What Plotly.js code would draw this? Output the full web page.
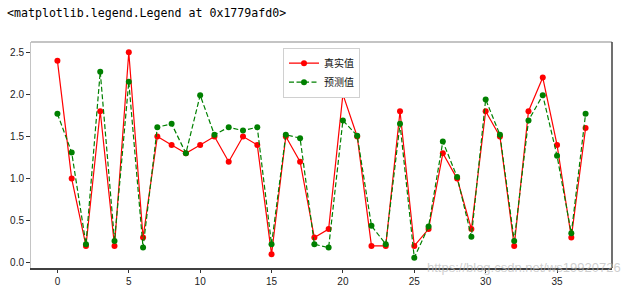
<!DOCTYPE html>
<html>
<head>
<meta charset="utf-8">
<script src="https://cdn.plot.ly/plotly-3.0.1.min.js"></script>
<style>
  html, body { margin: 0; padding: 0; background: #fff; }
  #chart { width: 633px; height: 288px; }
</style>
</head>
<body>
<div id="chart"></div>
<script>
// ---- data ----
const seriesNames = ["真实值", "预测值"];
const realValues = [2.4, 1.0, 0.2, 1.8, 0.2, 2.5, 0.3, 1.5, 1.4, 1.3,
                    1.4, 1.5, 1.2, 1.5, 1.4, 0.1, 1.5, 1.2, 0.3, 0.4,
                    2.0, 1.5, 0.2, 0.2, 1.8, 0.2, 0.4, 1.3, 1.0, 0.4,
                    1.8, 1.5, 0.2, 1.8, 2.2, 1.4, 0.3, 1.6];
const predValues = [1.77, 1.31, 0.22, 2.27, 0.26, 2.15, 0.18, 1.61, 1.65, 1.30,
                    1.99, 1.52, 1.61, 1.57, 1.61, 0.22, 1.52, 1.48, 0.22, 0.18,
                    1.69, 1.51, 0.44, 0.22, 1.65, 0.06, 0.43, 1.44, 1.02, 0.31,
                    1.94, 1.52, 0.26, 1.69, 1.99, 1.27, 0.35, 1.77];
const xTickValues = [0, 5, 10, 15, 20, 25, 30, 35];
const yTickValues = [0.0, 0.5, 1.0, 1.5, 2.0, 2.5];
const yTickLabels = ["0.0", "0.5", "1.0", "1.5", "2.0", "2.5"];
const headerText = "<matplotlib.legend.Legend at 0x1779afd0>";
const watermarkText = "https://blog.csdn.net/ws19920726";

const xIndex = realValues.map((_, i) => i);

// matplotlib-like 5% margins
const allY = realValues.concat(predValues);
const yMin = Math.min(...allY), yMax = Math.max(...allY);
const yPad = (yMax - yMin) * 0.05;
const xMin = 0, xMax = xIndex.length - 1;
const xPad = (xMax - xMin) * 0.05;

const traces = [
  {
    x: xIndex, y: realValues, name: seriesNames[0],
    type: "scatter", mode: "lines+markers",
    line: { color: "#ff0000", width: 1.2 },
    marker: { color: "#ff0000", size: 6 }
  },
  {
    x: xIndex, y: predValues, name: seriesNames[1],
    type: "scatter", mode: "lines+markers",
    line: { color: "#008000", width: 1.2, dash: "5px,2.5px" },
    marker: { color: "#008000", size: 6 }
  }
];

const tickFont = { family: "Liberation Sans, Arial, sans-serif", size: 10, color: "#222" };

const layout = {
  width: 633, height: 288,
  margin: { l: 31, r: 21, t: 42, b: 20, pad: 0 },
  paper_bgcolor: "#ffffff",
  plot_bgcolor: "#ffffff",
  showlegend: true,
  legend: {
    x: 0.5, xanchor: "center", y: 0.975, yanchor: "top",
    bgcolor: "#ffffff", bordercolor: "#d0d0d0", borderwidth: 1,
    font: { family: "Noto Sans CJK SC, sans-serif", size: 10, color: "#111" },
    itemwidth: 30, tracegroupgap: 0
  },
  xaxis: {
    range: [xMin - xPad, xMax + xPad],
    tickvals: xTickValues,
    ticktext: xTickValues.map(String),
    ticks: "outside", ticklen: 3.5, tickwidth: 1, tickcolor: "#333",
    showgrid: false, zeroline: false,
    showline: true, linecolor: "#404040", linewidth: 1.5,
    tickfont: tickFont
  },
  yaxis: {
    range: [yMin - yPad, yMax + yPad],
    tickvals: yTickValues,
    ticktext: yTickLabels,
    ticks: "outside", ticklen: 3.5, tickwidth: 1, tickcolor: "#333",
    showgrid: false, zeroline: false,
    showline: true, linecolor: "#c4c4c4", linewidth: 1.5,
    tickfont: tickFont
  },
  shapes: [
    { type: "line", xref: "paper", yref: "paper", x0: 0, x1: 1, y0: 1, y1: 1,
      line: { color: "#c4c4c4", width: 2 } },
    { type: "line", xref: "paper", yref: "paper", x0: 1, x1: 1, y0: 0, y1: 1,
      line: { color: "#404040", width: 1.5 } }
  ],
  annotations: [
    { text: headerText, xref: "paper", yref: "paper",
      x: -26 / 581, y: 1 + 29 / 226, xanchor: "left", yanchor: "middle",
      showarrow: false,
      font: { family: "DejaVu Sans Mono, monospace", size: 11.6, color: "#000" } },
    { text: watermarkText, xref: "paper", yref: "paper",
      x: 1 + 11 / 581, y: 1 / 226, xanchor: "right", yanchor: "middle",
      showarrow: false,
      font: { family: "Liberation Sans, Arial, sans-serif", size: 13, color: "rgba(185,185,185,0.7)" } }
  ]
};

Plotly.newPlot("chart", traces, layout, { staticPlot: true, displayModeBar: false });
</script>
</body>
</html>
